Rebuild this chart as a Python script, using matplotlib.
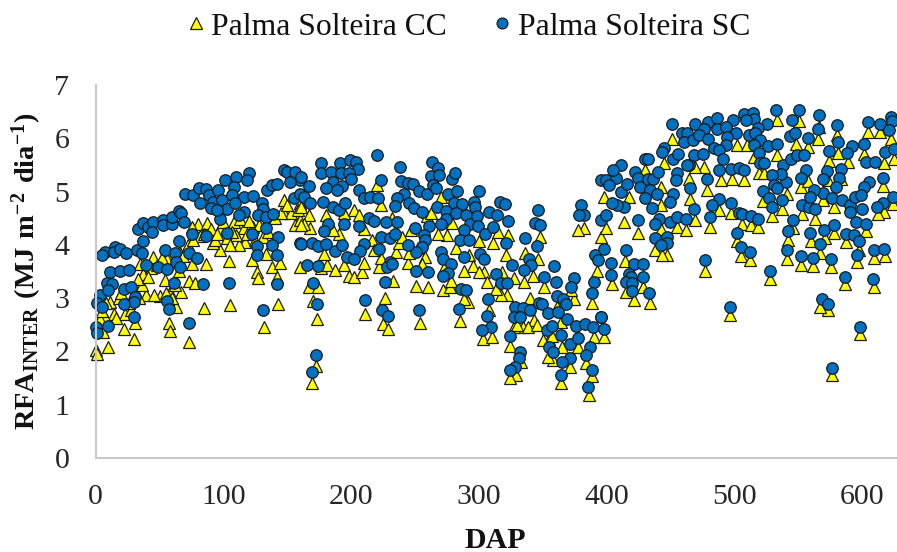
import matplotlib
matplotlib.use("Agg")
from matplotlib import pyplot as plt

# Palma Solteira SC, circles
sc_dap = [0, 1, 3, 1, 5, 7, 5, 15, 14, 19, 24, 11, 19, 26, 9, 13, 10, 22, 28, 31,
          30, 22, 30, 10, 32, 36, 37, 33, 37, 41, 45, 44, 53, 53, 60, 60, 65, 67, 69, 65,
          54, 62, 63, 39, 49, 56, 66, 73, 79, 61, 84, 56, 57, 73, 104, 131, 142, 70, 76, 81,
          86, 82, 89, 96, 92, 90, 99, 101, 110, 120, 118, 108, 107, 116, 123, 130, 131, 97, 103, 95,
          109, 116, 112, 127, 133, 139, 133, 75, 86, 103, 122, 143, 126, 138, 126, 142, 134, 138, 142, 147,
          150, 156, 155, 160, 160, 152, 160,
          176, 176, 184, 191, 199, 204, 205, 192, 198, 220, 223, 200, 186, 193, 189, 180, 167, 161, 163, 168,
          178, 186, 190, 195, 206, 210, 215, 221, 182, 179, 194, 206, 214, 218, 227, 236, 161, 169, 174, 180,
          187, 193, 210, 207, 197, 202, 223, 230, 234, 222, 230, 228, 165, 174, 170, 173, 226, 211, 224, 229,
          172, 169, 238, 239, 244, 248, 241, 236, 253, 259, 263, 268, 262, 269, 279, 281, 264, 266, 234, 245,
          249, 255, 267, 276, 283, 300, 280, 287, 274, 282, 274, 270, 261, 250, 257, 258, 255, 251, 244, 270,
          272, 278, 288, 276, 272, 251, 260, 286, 290, 307, 284, 253, 306, 309, 302, 232, 296, 297, 290, 293,
          298, 299, 288, 285, 292, 305, 311, 308, 314, 316, 320, 323, 321, 346, 344, 348, 336, 345, 326, 301,
          304, 339, 341, 335, 359, 313, 317, 322, 351, 360, 374, 372, 361, 366, 368, 390, 388, 328, 334, 340,
          347, 349, 327, 332, 354, 362, 369, 353, 357, 324, 364, 371, 377, 376, 383, 389, 395, 387, 384, 355,
          358, 332, 331, 328, 324, 371, 365, 364, 388, 385, 380, 382, 378, 391, 393, 395, 395,
          399, 407, 411, 405, 402, 411, 416, 422, 424, 426, 432, 436, 434, 440, 439, 430, 432, 445, 443, 452,
          456, 455, 454, 451, 464, 452, 449, 465, 430, 435, 413, 408, 404, 399, 424, 441, 449, 455, 462, 468,
          438, 438, 447, 447, 442, 398, 415, 403, 421, 428, 417, 403, 419, 428, 415, 420, 420, 433, 477, 496,
          398, 395, 469, 479, 486, 476, 486, 499, 493, 507, 514, 515, 509, 525, 518, 532, 545, 550, 566, 565,
          580, 604, 614, 622, 623, 621, 459, 463, 460, 467, 472, 479, 501, 511, 516, 520, 494, 493, 543, 547,
          557, 515, 526, 533, 519, 484, 488, 468, 475, 491, 463, 478, 488, 497, 503, 507, 520, 523, 538, 544,
          549, 554, 556, 574, 581, 592, 588, 601, 603, 610, 618, 625, 616, 605, 601, 583, 572, 582, 569, 579,
          569, 562, 552, 540, 536, 529, 531, 533, 522, 527, 537, 529, 553, 558, 563, 559, 576, 584, 590, 594,
          599, 600, 616, 611, 624, 590, 595, 603, 488, 482, 481, 497, 503, 506, 513, 518, 502, 505, 512, 528,
          546, 542, 559, 570, 578, 587, 593, 597, 567, 541, 552, 561, 575, 596, 609, 617, 586, 608, 568, 573,
          598, 576]
sc_rfa = [2.46, 2.35, 3.06, 2.91, 2.84, 3.87, 3.81, 3.96, 3.87, 3.93, 3.85, 3.49, 3.51, 3.53, 3.28, 3.26, 3.15, 3.18, 3.21, 3.03,
          2.93, 2.89, 2.65, 2.48, 3.90, 3.84, 4.08, 4.29, 4.41, 4.34, 4.43, 4.24, 4.46, 4.37, 4.40, 4.53, 4.64, 4.59, 4.43, 4.08,
          3.90, 3.84, 3.68, 3.62, 3.59, 3.54, 3.59, 3.84, 3.76, 3.29, 3.26, 2.94, 2.79, 2.54, 3.28, 2.78, 3.26, 4.95, 4.93, 5.06,
          5.04, 4.78, 4.93, 5.03, 4.81, 4.70, 4.84, 5.22, 5.28, 5.34, 5.21, 5.09, 4.93, 4.89, 4.91, 4.78, 4.68, 4.49, 4.68, 4.66,
          4.78, 4.62, 4.56, 4.56, 4.53, 4.57, 4.31, 4.21, 4.16, 4.23, 4.21, 4.14, 3.97, 3.99, 3.81, 3.81, 5.03, 5.12, 5.15, 5.40,
          5.37, 5.37, 4.87, 4.96, 5.21, 5.18, 4.03,
          5.53, 5.34, 5.37, 5.54, 5.59, 5.56, 5.43, 5.34, 5.34, 5.68, 5.22, 5.24, 5.18, 5.10, 5.03, 5.06, 5.10, 5.28, 4.90, 4.79,
          4.81, 4.71, 4.66, 4.79, 5.03, 4.87, 4.89, 4.87, 4.40, 4.26, 4.40, 4.36, 4.51, 4.45, 4.43, 4.43, 4.01, 4.04, 3.98, 4.01,
          3.89, 3.99, 4.01, 3.89, 3.78, 3.74, 4.14, 4.12, 4.21, 3.93, 3.68, 3.59, 3.62, 3.61, 3.28, 2.89, 3.31, 2.96, 2.78, 2.67,
          1.93, 1.62, 5.46, 5.20, 5.16, 5.15, 4.96, 4.87, 5.01, 4.95, 5.56, 5.45, 5.29, 5.32, 5.24, 5.34, 5.12, 5.06, 4.73, 4.78,
          4.70, 4.62, 4.71, 4.96, 5.01, 5.01, 4.79, 4.76, 4.64, 4.60, 4.49, 4.39, 4.36, 4.31, 4.18, 4.09, 3.96, 3.87, 3.99, 3.87,
          3.74, 3.64, 3.78, 3.48, 3.41, 3.51, 3.49, 3.18, 3.15, 2.98, 2.79, 2.78, 2.67, 2.46, 2.41, 3.64, 4.81, 4.71, 4.56, 4.40,
          4.54, 4.36, 4.28, 4.09, 4.09, 4.21, 4.33, 4.61, 4.56, 4.81, 4.76, 4.45, 4.04, 4.65, 4.41, 4.38, 4.12, 3.98, 3.62, 3.83,
          3.74, 3.74, 3.63, 3.53, 3.60, 3.45, 3.28, 3.28, 3.40, 3.31, 3.38, 3.21, 3.04, 2.98, 2.89, 3.31, 3.09, 2.83, 2.81, 2.78,
          2.90, 2.89, 2.65, 2.65, 2.73, 2.74, 2.61, 2.40, 2.48, 2.29, 2.31, 2.14, 2.26, 2.48, 2.51, 2.45, 2.65, 2.09, 1.93, 2.09,
          1.99, 1.98, 1.87, 1.71, 1.66, 1.87, 1.81, 1.56, 1.66, 1.34, 4.74, 4.56, 4.56, 3.81, 3.71, 4.46, 5.21,
          5.21, 5.26, 5.49, 5.40, 5.12, 4.99, 5.15, 5.37, 5.26, 5.08, 5.24, 5.23, 5.03, 5.37, 4.96, 5.62, 5.62, 5.81, 5.74, 5.61,
          5.70, 5.35, 5.21, 6.26, 5.49, 4.96, 4.81, 5.06, 4.87, 4.70, 4.71, 4.74, 4.78, 4.56, 4.46, 4.49, 4.42, 4.53, 4.48, 4.67,
          4.40, 4.12, 4.15, 4.03, 3.99, 3.93, 3.90, 3.66, 3.65, 3.64, 3.46, 3.44, 3.40, 3.40, 3.31, 3.28, 3.13, 3.09, 3.71, 2.84,
          2.43, 2.65, 6.26, 6.31, 6.39, 6.18, 6.18, 6.34, 6.21, 6.46, 6.48, 6.37, 6.34, 6.26, 6.20, 6.54, 6.35, 6.53, 6.43, 6.18,
          6.24, 6.31, 6.26, 6.40, 6.33, 6.15, 6.09, 6.10, 5.93, 5.96, 6.06, 5.99, 6.09, 6.06, 6.10, 5.96, 6.03, 5.87, 6.04, 6.09,
          6.01, 5.87, 5.85, 5.90, 5.73, 5.81, 5.78, 5.68, 5.70, 5.61, 5.49, 5.24, 5.41, 5.43, 5.45, 5.41, 5.53, 5.54, 5.49, 5.62,
          5.68, 5.68, 5.40, 5.76, 5.93, 5.85, 5.73, 5.90, 5.56, 5.56, 5.74, 5.79, 5.26, 5.18, 5.09, 5.42, 5.39, 5.26, 5.24, 5.09,
          4.98, 5.03, 5.26, 5.18, 5.33, 5.31, 5.12, 5.07, 5.01, 4.87, 4.84, 4.71, 4.74, 4.71, 4.67, 4.90, 4.87, 4.84, 4.74, 4.90,
          4.93, 4.67, 4.79, 4.71, 4.89, 4.62, 4.43, 4.40, 4.86, 4.74, 4.53, 4.79, 4.59, 4.58, 4.54, 4.49, 4.23, 3.96, 3.87, 3.51,
          4.46, 4.26, 4.23, 4.28, 4.38, 4.21, 4.18, 4.07, 4.01, 3.90, 3.79, 3.76, 3.74, 3.81, 3.90, 3.92, 3.40, 3.35, 2.98, 2.89,
          2.45, 1.68]

# Palma Solteira CC, triangles
cc_dap = [0, 1, 10, 30, 73, 22, 57, 58, 6, 31, 14, 11, 23, 28, 7, 39, 50, 36, 37, 67,
          85, 105, 132, 143, 54, 73, 78, 63, 58, 86, 104, 97, 65, 75, 43, 35, 45, 56, 66, 117,
          112, 122, 126, 127, 138, 144, 142, 133, 80, 87, 75, 97, 108, 116, 82, 92, 103, 110, 123, 131,
          147, 156, 147, 153, 160, 160, 160,
          3, 5, 8, 16, 18, 20, 26, 33, 34, 41, 46, 48, 52, 55, 60, 62, 68, 72, 76, 85,
          90, 93, 95, 100, 105, 107, 113, 118, 120, 125, 128, 135, 140, 145, 150, 158,
          169, 172, 173, 170, 167, 174, 176, 181, 187, 194, 198, 202, 208, 210, 211, 226, 225, 229, 233, 222,
          223, 235, 244, 251, 260, 254, 258, 272, 277, 278, 288, 285, 291, 288, 303, 310, 308, 304, 322, 317,
          313, 327, 335, 342, 321, 336, 346, 348, 300, 311, 323, 315, 292, 270, 220, 223, 167, 168, 180, 190,
          202, 206, 194, 163, 179, 216, 237, 247, 259, 275, 279, 255, 382, 377, 351, 324, 329, 324, 333, 343,
          334, 327, 355, 350, 357, 358, 354, 364, 371, 365, 377, 384, 390, 388, 386, 388, 374, 372, 361, 364,
          392, 395, 161, 161, 186,
          210, 218, 232, 240, 245, 252, 262, 268, 273, 282, 295, 300, 306, 318, 330, 338, 345, 340,
          451, 398, 477, 496, 528, 576, 573, 567, 598, 586, 609, 421, 434, 428, 414, 404, 415, 505, 512, 502,
          552, 561, 575, 596, 609, 618, 541, 542, 560, 567, 571, 578, 587, 597, 603, 424, 413, 399, 442, 455,
          462, 438, 447, 443, 481, 469, 488, 497, 506, 513, 518, 529, 553, 563, 537, 522, 546, 617, 612, 624,
          578, 569, 552, 557, 541, 616, 478, 465, 464, 489, 498, 507, 519, 523, 445, 476, 469, 502, 510, 515,
          533, 533, 550, 566, 565, 580, 604, 614, 622, 548, 557, 581, 589, 601, 574, 625, 617, 442, 417, 442,
          430, 583, 573, 398]
cc_rfa = [2.02, 1.95, 2.08, 2.24, 2.18, 2.43, 2.54, 2.39, 2.37, 2.53, 2.71, 2.93, 2.71, 2.78, 2.65, 3.06, 3.04, 3.24, 3.45, 3.11,
          2.81, 2.87, 2.45, 2.89, 3.34, 3.32, 3.28, 2.84, 3.12, 3.64, 3.70, 3.91, 3.51, 3.65, 3.56, 3.65, 3.78, 3.74, 3.84, 4.06,
          3.99, 3.71, 3.49, 3.37, 3.58, 3.66, 3.40, 3.82, 4.40, 4.41, 4.34, 4.31, 4.43, 4.31, 4.16, 4.03, 4.12, 4.18, 4.34, 4.15,
          4.84, 4.37, 4.59, 4.59, 4.78, 3.59, 4.46,
          2.60, 2.75, 2.90, 2.62, 3.00, 3.10, 2.90, 3.35, 3.00, 3.40, 3.05, 3.62, 3.75, 3.10, 3.00, 3.25, 3.80, 4.00, 4.10, 4.20,
          4.30, 4.10, 4.20, 4.42, 4.00, 4.25, 4.48, 4.20, 4.45, 4.10, 4.38, 4.25, 4.50, 4.60, 4.75, 4.65,
          1.41, 1.72, 2.60, 2.95, 3.21, 3.21, 3.56, 3.62, 3.52, 3.62, 3.41, 3.39, 3.49, 3.66, 2.70, 3.01, 2.52, 2.43, 3.33, 3.58,
          3.76, 3.86, 3.66, 3.23, 3.20, 2.53, 3.78, 3.15, 3.21, 3.33, 3.51, 2.58, 2.92, 2.98, 2.23, 2.28, 2.78, 3.49, 3.06, 3.06,
          3.17, 3.37, 3.31, 3.41, 3.81, 3.84, 3.74, 4.14, 4.08, 4.04, 4.18, 4.24, 3.81, 4.90, 5.12, 4.74, 4.56, 4.31, 4.56, 4.21,
          4.65, 4.56, 4.59, 4.40, 3.83, 4.09, 4.04, 4.28, 4.54, 4.18, 4.41, 3.65, 4.31, 4.28, 3.20, 2.10, 1.56, 1.51, 1.81, 2.59,
          2.46, 2.45, 2.23, 2.21, 2.29, 1.84, 1.90, 1.40, 1.70, 2.09, 2.09, 1.78, 2.28, 2.90, 1.18, 1.53, 2.99, 3.15, 2.84, 2.56,
          3.51, 4.15, 4.71, 4.37, 4.28,
          4.30, 3.90, 4.50, 4.15, 3.85, 3.95, 4.60, 4.20, 3.60, 3.95, 3.60, 3.50, 3.30, 3.50, 2.50, 2.45, 2.50, 3.00,
          5.98, 2.28, 3.51, 2.68, 3.35, 1.56, 2.78, 2.84, 2.33, 3.26, 3.21, 2.96, 2.90, 3.21, 3.69, 3.26, 3.12, 3.79, 3.71, 4.07,
          3.63, 3.61, 3.59, 3.67, 3.76, 3.79, 3.74, 4.10, 4.08, 3.84, 4.12, 4.23, 4.06, 3.91, 4.26, 4.23, 4.43, 4.31, 4.29, 4.33,
          4.28, 3.90, 3.81, 3.81, 4.33, 4.46, 4.65, 4.60, 4.40, 4.38, 4.33, 4.54, 4.58, 4.49, 4.68, 4.82, 4.31, 4.62, 4.58, 4.76,
          4.71, 4.84, 5.09, 5.20, 4.96, 5.10, 5.03, 4.86, 5.24, 5.21, 5.24, 5.21, 5.34, 5.34, 5.54, 5.46, 5.46, 5.87, 5.87, 5.65,
          5.69, 6.34, 6.32, 6.21, 5.99, 6.06, 6.12, 6.12, 5.98, 5.89, 5.83, 5.73, 5.56, 5.71, 5.58, 5.62, 5.54, 4.74, 4.90, 5.09,
          5.40, 5.23, 5.21, 4.90]

x_ticks = [0, 100, 200, 300, 400, 500, 600]
y_ticks = [0, 1, 2, 3, 4, 5, 6, 7]

plt.rcParams['font.family'] = ['Liberation Serif', 'DejaVu Serif']
plt.rcParams['mathtext.fontset'] = 'custom'
plt.rcParams['mathtext.rm'] = 'Liberation Serif'
plt.rcParams['mathtext.bf'] = 'Liberation Serif:bold'

fig = plt.figure(figsize=(8.97, 5.52), dpi=100)
ax = fig.add_axes([95.7 / 897, 1 - 458 / 552, 1 - 95.7 / 897, 373 / 552])

ax.plot(cc_dap, cc_rfa, ls='none', marker='^', ms=9.2, mfc='#FFFF00', mec='#1c1c1c', mew=0.9,
        clip_on=False, label='Palma Solteira CC')
ax.plot(sc_dap, sc_rfa, ls='none', marker='o', ms=8.3, mfc='#0070C0', mec='#1c1c1c', mew=0.9,
        clip_on=False, label='Palma Solteira SC')

ax.set_xlim(0, 627)
ax.set_ylim(0, 7)
ax.set_xticks(x_ticks)
ax.set_yticks(y_ticks)
ax.tick_params(length=0, labelsize=21.5, labelcolor='#262626')
ax.tick_params(axis='x', pad=19)
ax.tick_params(axis='y', pad=19)

for side in ['top', 'right']:
    ax.spines[side].set_visible(False)
for side in ['left', 'bottom']:
    ax.spines[side].set_color('#c8c8c8')
    ax.spines[side].set_linewidth(1.5)

fig.text(495 / 897, 1 - 540 / 552, 'DAP', fontsize=21.5, fontweight='bold', ha='center', va='center', color='#111111')
fig.text(27 / 897, 1 - 271 / 552, r'$\mathbf{RFA_{INTER}\ (MJ\ m^{-2}\ dia^{-1})}$', fontsize=20.5,
         rotation=90, ha='center', va='center', color='#111111')

# smaller markers in the legend than the ones on the chart
handles = [plt.Line2D([], [], ls='none', marker='^', ms=8, mfc='#FFFF00', mec='#1c1c1c', mew=0.9),
           plt.Line2D([], [], ls='none', marker='o', ms=7.8, mfc='#0070C0', mec='#1c1c1c', mew=0.9)]
fig.legend(handles, ['Palma Solteira CC', 'Palma Solteira SC'], ncol=2, frameon=False, fontsize=22.8,
           loc='center', bbox_to_anchor=(465 / 897, 1 - 27 / 552), handletextpad=0.0, columnspacing=1.23,
           labelcolor='#111111', handlelength=1.0, borderpad=0)

plt.savefig('out.png', dpi=100)
